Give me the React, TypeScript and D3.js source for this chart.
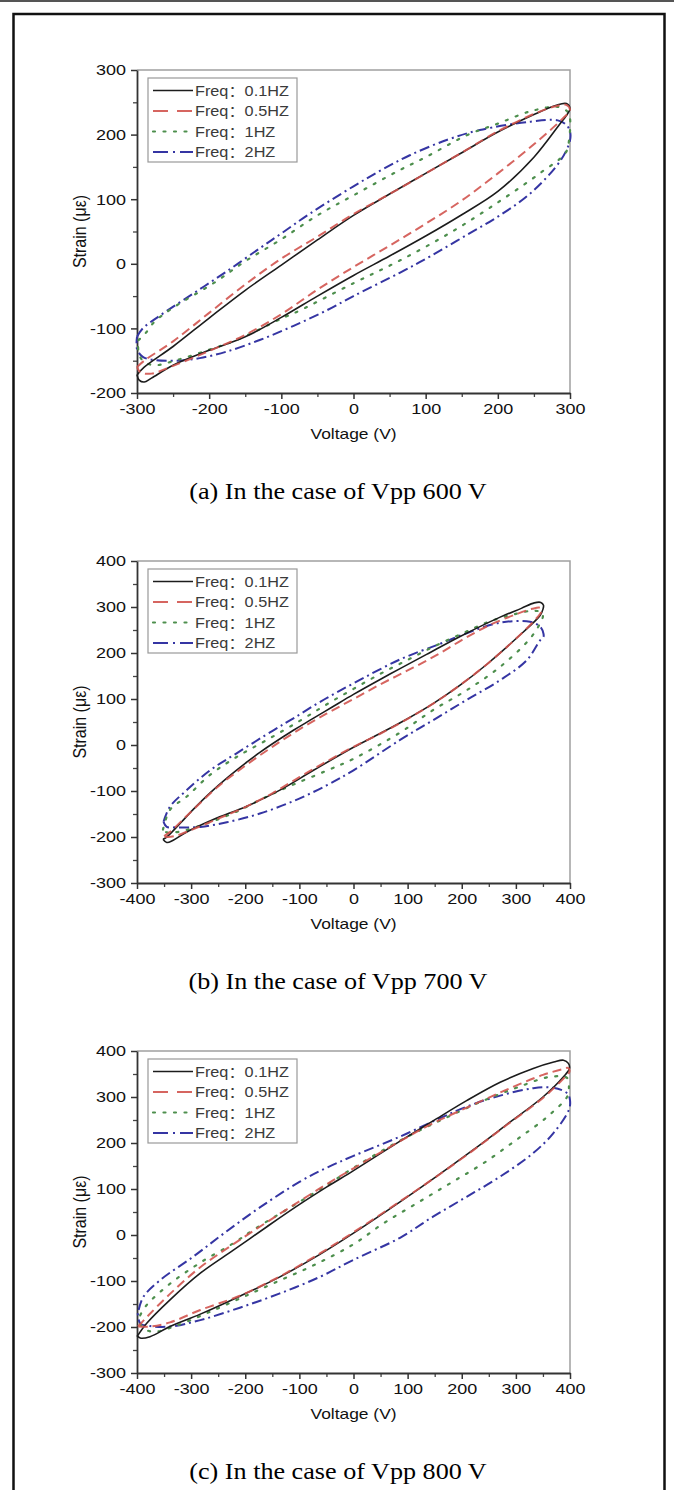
import React, { useEffect, useRef } from "react";
import * as d3 from "d3";

const W = 674;
const H = 1490;

// legend + captions
const seriesLabels = ["Freq：0.1HZ", "Freq：0.5HZ", "Freq：1HZ", "Freq：2HZ"];
const captions = [
  "(a) In the case of Vpp 600 V",
  "(b) In the case of Vpp 700 V",
  "(c) In the case of Vpp 800 V"
];

// axis ticks
const voltageTicksA = [-300, -200, -100, 0, 100, 200, 300];
const strainTicksA = [-200, -100, 0, 100, 200, 300];
const voltageTicksBC = [-400, -300, -200, -100, 0, 100, 200, 300, 400];
const strainTicksBC = [-300, -200, -100, 0, 100, 200, 300, 400];

// hysteresis loops, [voltage (V), strain (με)]
// (a) Vpp 600 V
const loopA01 = [
  [-300, -172], [-290, -160], [-250, -128], [-200, -84], [-150, -41], [-100, -2], [-50, 37],
  [0, 75], [50, 108], [100, 140], [150, 172], [200, 204], [250, 231], [280, 245], [295, 248],
  [300, 240], [294, 228], [287, 218], [250, 165], [200, 112], [150, 76], [100, 43], [50, 12],
  [0, -18], [-50, -50], [-100, -83], [-150, -113], [-200, -134], [-250, -157], [-280, -177],
  [-290, -183], [-297, -180], [-300, -172]
];
const loopA05 = [
  [-300, -160], [-290, -150], [-250, -120], [-200, -76], [-150, -32], [-100, 8], [-50, 42],
  [0, 77], [50, 108], [100, 140], [150, 172], [200, 205], [250, 232], [280, 244], [295, 246],
  [300, 238], [290, 225], [250, 185], [200, 140], [150, 98], [100, 62], [50, 28], [0, -5],
  [-50, -40], [-100, -78], [-150, -110], [-200, -135], [-250, -158], [-280, -170],
  [-295, -168], [-300, -160]
];
const loopA1 = [
  [-298, -118], [-290, -110], [-276, -90], [-250, -68], [-194, -30], [-150, 4], [-100, 38],
  [-50, 75], [0, 106], [64, 145], [100, 165], [157, 199], [200, 217], [245, 236], [283, 243],
  [297, 235], [300, 225], [299, 195], [294, 172], [258, 140], [200, 95], [134, 48], [64, 5],
  [0, -30], [-74, -72], [-100, -85], [-162, -118], [-200, -133], [-245, -149], [-276, -157],
  [-292, -150], [-298, -135], [-298, -118]
];
const loopA2 = [
  [-300, -113], [-292, -100], [-268, -80], [-222, -46], [-176, -12], [-130, 24], [-100, 47],
  [-60, 78], [0, 120], [40, 146], [78, 168], [130, 192], [175, 207], [245, 220],
  [283, 222], [295, 215], [300, 205], [300, 191], [287, 160], [245, 109], [200, 73],
  [153, 42], [107, 12], [64, -14], [0, -50], [-37, -72], [-83, -96], [-130, -118],
  [-176, -136], [-213, -146], [-245, -150], [-276, -149], [-292, -144], [-300, -132],
  [-300, -113]
];

// (b) Vpp 700 V
const loopB01 = [
  [-352, -205], [-345, -200], [-320, -170], [-296, -140], [-265, -104], [-234, -72],
  [-200, -40], [-173, -16], [-111, 32], [-80, 54], [-40, 82], [0, 110], [50, 143], [86, 166],
  [135, 197], [197, 236], [271, 278], [310, 297], [334, 309], [346, 310], [351, 304],
  [350, 295], [345, 282], [301, 232], [246, 175], [197, 130], [147, 90], [98, 56], [49, 25],
  [0, -5], [-74, -55], [-136, -98], [-197, -133], [-259, -162], [-308, -189], [-333, -207],
  [-345, -212], [-352, -205]
];
const loopB05 = [
  [-350, -198], [-340, -190], [-300, -145], [-250, -90], [-200, -45], [-150, -4], [-100, 34],
  [-50, 68], [0, 100], [50, 132], [100, 162], [150, 193], [200, 228], [250, 260], [300, 284],
  [330, 296], [345, 298], [347, 290], [340, 278], [300, 231], [250, 179], [200, 133],
  [150, 92], [100, 57], [50, 25], [0, -4], [-50, -36], [-100, -70], [-150, -105],
  [-200, -135], [-250, -160], [-300, -185], [-330, -198], [-345, -200], [-350, -198]
];
const loopB1 = [
  [-352, -184], [-339, -141], [-308, -112], [-265, -65], [-216, -26], [-160, 11], [-100, 52],
  [-50, 88], [0, 122], [50, 155], [100, 185], [150, 215], [200, 242], [250, 268], [300, 285],
  [332, 292], [348, 288], [350, 280], [345, 265], [326, 231], [271, 170], [209, 119],
  [147, 76], [86, 27], [0, -30], [-50, -56], [-111, -86], [-160, -112], [-220, -147],
  [-270, -170], [-320, -188], [-345, -190], [-352, -184]
];
const loopB2 = [
  [-351, -167], [-339, -134], [-308, -98], [-265, -55], [-216, -18], [-148, 32], [-111, 58],
  [-60, 95], [0, 134], [86, 186], [160, 220], [209, 243], [271, 266], [326, 268], [345, 257],
  [351, 242], [351, 235], [345, 228], [320, 184], [271, 141], [209, 98], [147, 54], [86, 11],
  [0, -55], [-50, -88], [-111, -122], [-173, -149], [-234, -168], [-283, -178], [-327, -179],
  [-345, -178], [-351, -167]
];

// (c) Vpp 800 V
const loopC01 = [
  [-400, -221], [-382, -192], [-339, -141], [-283, -83], [-222, -33], [-160, 18], [-99, 67],
  [-50, 104], [0, 140], [86, 204], [147, 248], [209, 292], [271, 332], [332, 362], [370, 376],
  [388, 380], [397, 373], [399, 362], [388, 344], [350, 300], [283, 240], [221, 185],
  [147, 122], [86, 72], [0, 4], [-62, -42], [-136, -91], [-210, -133], [-283, -172],
  [-339, -199], [-376, -221], [-394, -224], [-400, -218]
];
const loopC05 = [
  [-398, -199], [-380, -176], [-339, -128], [-283, -70], [-222, -20], [-160, 28], [-99, 74],
  [-50, 110], [0, 145], [86, 204], [147, 243], [221, 283], [283, 316], [350, 348], [385, 360],
  [397, 363], [399, 355], [388, 340], [350, 298], [283, 239], [221, 184], [147, 122],
  [86, 73], [0, 6], [-62, -40], [-136, -90], [-210, -132], [-283, -163], [-339, -190],
  [-376, -199], [-398, -199]
];
const loopC1 = [
  [-394, -174], [-382, -152], [-339, -106], [-283, -60], [-222, -18], [-180, 15], [-111, 64],
  [-50, 108], [0, 146], [60, 188], [120, 226], [180, 260], [240, 292], [301, 320], [364, 344],
  [395, 341], [398, 320], [395, 301], [358, 257], [301, 207], [240, 156], [178, 112],
  [117, 69], [55, 25], [0, -20], [-74, -66], [-148, -105], [-210, -138], [-271, -170],
  [-327, -197], [-364, -210], [-382, -207], [-394, -193], [-394, -174]
];
const loopC2 = [
  [-397, -163], [-388, -134], [-357, -98], [-296, -47], [-240, 3], [-173, 60], [-99, 116],
  [-50, 146], [0, 172], [86, 214], [160, 254], [209, 279], [271, 303], [332, 319], [369, 320],
  [395, 308], [400, 293], [398, 272], [369, 221], [332, 178], [271, 127], [209, 83],
  [147, 40], [86, -6], [0, -54], [-62, -91], [-136, -127], [-210, -158], [-283, -185],
  [-339, -199], [-376, -198], [-394, -192], [-399, -163]
];

const STRETCH = 1.16; // the source figure is widened a bit
const SANS = "'Liberation Sans', Arial, 'Noto Sans CJK SC', sans-serif";
const SERIF = "'Liberation Serif', 'Times New Roman', serif";

const styles = [
  { color: "#1c1c1c", width: 1.6, dash: null, legendDash: null, opacity: 1 },
  { color: "#d2544f", width: 2, dash: "9,5", legendDash: "15,9", opacity: 0.9 },
  { color: "#4d8f4d", width: 2.2, dash: "2,8.5", legendDash: "2,8.5", opacity: 1 },
  { color: "#3535a3", width: 2, dash: "10,4,2,4", legendDash: "15,5,2,5", opacity: 1 }
];

const panels = [
  { top: 70, bottom: 393, vMax: 300, sMin: -200, sMax: 300, vTicks: voltageTicksA, sTicks: strainTicksA, loops: [loopA01, loopA05, loopA1, loopA2] },
  { top: 561, bottom: 883, vMax: 400, sMin: -300, sMax: 400, vTicks: voltageTicksBC, sTicks: strainTicksBC, loops: [loopB01, loopB05, loopB1, loopB2] },
  { top: 1051, bottom: 1373, vMax: 400, sMin: -300, sMax: 400, vTicks: voltageTicksBC, sTicks: strainTicksBC, loops: [loopC01, loopC05, loopC1, loopC2] }
];

function stretchedText(g, x, y, txt, size, family, anchor, fill, k = STRETCH) {
  return g
    .append("text")
    .attr("transform", "translate(" + x + "," + y + ") scale(" + k + ",1)")
    .attr("text-anchor", anchor)
    .style("font-family", family)
    .style("font-size", size + "px")
    .attr("fill", fill)
    .text(txt);
}

export default function App() {
  const ref = useRef(null);

  useEffect(() => {
    const svg = d3.select(ref.current);
    svg.selectAll("*").remove();

    svg.append("rect").attr("width", W).attr("height", H).attr("fill", "#fff");
    // page frame
    svg.append("line").attr("x1", 0).attr("x2", W).attr("y1", 1).attr("y2", 1)
      .attr("stroke", "#555").attr("stroke-width", 2);
    svg.append("rect").attr("x", 13.5).attr("y", 14).attr("width", 651).attr("height", 1500)
      .attr("fill", "none").attr("stroke", "#111").attr("stroke-width", 2.5);

    const left = 137, right = 570;
    const fmt = d => String(d); // plain hyphen minus

    panels.forEach((p, pi) => {
      const x = d3.scaleLinear().domain([-p.vMax, p.vMax]).range([left, right]);
      const y = d3.scaleLinear().domain([p.sMin, p.sMax]).range([p.bottom, p.top]);
      const g = svg.append("g");

      // top / right frame
      g.append("path")
        .attr("d", "M" + left + "," + p.top + "H" + right + "V" + p.bottom)
        .attr("fill", "none").attr("stroke", "#a0a0a0").attr("stroke-width", 1.5);

      // minor ticks
      const vMinor = d3.range(-p.vMax + 50, p.vMax, 100);
      const sMinor = d3.range(p.sMin + 50, p.sMax, 100);
      g.append("g").attr("transform", "translate(0," + p.bottom + ")")
        .call(d3.axisBottom(x).tickValues(vMinor).tickSize(4).tickFormat(() => ""))
        .call(a => a.select(".domain").remove())
        .selectAll("line").attr("stroke", "#444").attr("stroke-width", 1.3);
      g.append("g").attr("transform", "translate(" + left + ",0)")
        .call(d3.axisLeft(y).tickValues(sMinor).tickSize(4).tickFormat(() => ""))
        .call(a => a.select(".domain").remove())
        .selectAll("line").attr("stroke", "#444").attr("stroke-width", 1.3);

      // major axes
      const xa = g.append("g").attr("transform", "translate(0," + p.bottom + ")")
        .call(d3.axisBottom(x).tickValues(p.vTicks).tickFormat(fmt).tickSize(6).tickSizeOuter(0).tickPadding(4));
      const ya = g.append("g").attr("transform", "translate(" + left + ",0)")
        .call(d3.axisLeft(y).tickValues(p.sTicks).tickFormat(fmt).tickSize(6).tickSizeOuter(0).tickPadding(4));
      [xa, ya].forEach(a => {
        a.select(".domain").attr("stroke", "#333").attr("stroke-width", 1.8);
        a.selectAll(".tick line").attr("stroke", "#333").attr("stroke-width", 1.5);
        a.selectAll("text")
          .style("font-family", SANS).style("font-size", "15.5px").attr("fill", "#111");
      });
      xa.selectAll("text").attr("transform", "scale(" + STRETCH + ",1)").attr("y", 10);
      ya.selectAll("text").attr("transform", "scale(" + STRETCH + ",1)").attr("x", -11 / STRETCH);

      // axis titles
      stretchedText(g, (left + right) / 2, p.bottom + 46, "Voltage (V)", 15, SANS, "middle", "#111");
      g.append("text")
        .attr("transform", "translate(86," + (p.top + p.bottom) / 2 + ") scale(" + STRETCH + ",1) rotate(-90)")
        .attr("text-anchor", "middle")
        .style("font-family", SANS).style("font-size", "16px").attr("fill", "#111")
        .text("Strain (με)");

      // caption
      stretchedText(g, 338, p.bottom + 106, captions[pi], 24, SERIF, "middle", "#000", 1.09);

      // loops
      const line = d3.line()
        .x(d => x(d[0]))
        .y(d => y(d[1]))
        .curve(d3.curveCatmullRom.alpha(0.5));
      [3, 2, 0, 1].forEach(si => {
        const s = styles[si];
        g.append("path")
          .datum(p.loops[si])
          .attr("d", line)
          .attr("fill", "none")
          .attr("stroke", s.color)
          .attr("stroke-width", s.width)
          .attr("stroke-opacity", s.opacity)
          .attr("stroke-dasharray", s.dash)
          .attr("stroke-linecap", si === 2 ? "round" : "butt");
      });

      // legend
      const lg = g.append("g").attr("transform", "translate(148," + (p.top + 8) + ")");
      lg.append("rect").attr("width", 149).attr("height", 84)
        .attr("fill", "#fff").attr("stroke", "#999").attr("stroke-width", 1.2);
      seriesLabels.forEach((lab, i) => {
        const s = styles[i];
        const yy = 12.5 + i * 20.5;
        lg.append("line").attr("x1", 5).attr("x2", 45).attr("y1", yy).attr("y2", yy)
          .attr("stroke", s.color).attr("stroke-width", s.width)
          .attr("stroke-opacity", s.opacity)
          .attr("stroke-dasharray", s.legendDash)
          .attr("stroke-linecap", i === 2 ? "round" : "butt");
        stretchedText(lg, 47, yy + 5, lab, 14, SANS, "start", "#3a3a3a");
      });
    });
  }, []);

  return (
    <div style={{ position: "absolute", left: 0, top: 0 }}>
      <svg ref={ref} width={W} height={H} style={{ display: "block" }} />
    </div>
  );
}
